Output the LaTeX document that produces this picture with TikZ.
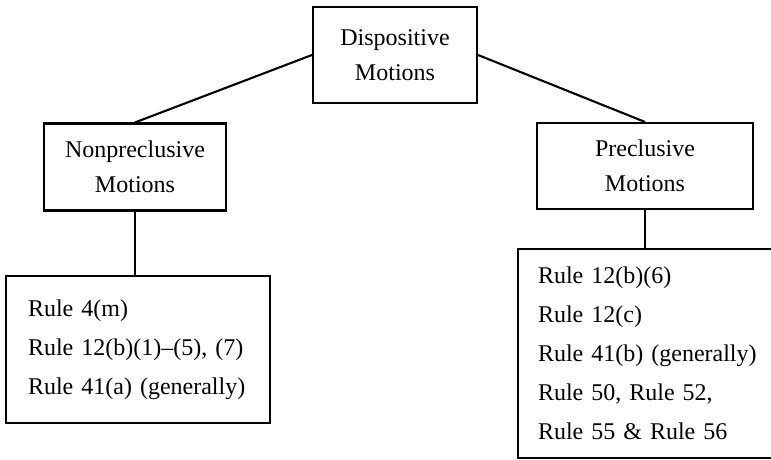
\documentclass[tikz,border=0pt]{standalone}
\usepackage{fontspec}
\setmainfont{Liberation Serif}
% slightly tighter word spacing for the list text
\newcommand{\listfont}{\fontsize{24}{39}\selectfont\fontdimen2\font=0.21em\relax}
\begin{document}
\begin{tikzpicture}[x=1pt,y=-1pt,
  box/.style={draw=black, line width=2.1pt, fill=white, inner sep=0pt,
    font=\fontsize{24}{35}\selectfont, align=center},
  rulebox/.style={draw=black, line width=2.1pt, fill=white, inner ysep=0pt,
    font=\listfont, align=left, anchor=north west},
  link/.style={draw=black, line width=2.1pt}]
  \useasboundingbox (0,0) rectangle (771,460);
  \clip (0,0) rectangle (771,460);

  % category boxes
  \node[box, minimum width=164pt, minimum height=96pt] (top) at (395,55)
    {Dispositive\\Motions};
  \node[box, minimum width=182pt, minimum height=87pt] (nonpre) at (135,167)
    {Nonpreclusive\\Motions};
  \node[box, minimum width=216pt, minimum height=86pt] (pre) at (645,166)
    {Preclusive\\Motions};

  % rule lists
  \node[rulebox, minimum width=264pt, minimum height=147pt,
    inner xsep=22pt, text width=220pt] (lrules) at (5,275)
    {Rule 4(m)\\Rule 12(b)(1)–(5), (7)\\Rule 41(a) (generally)};
  \node[rulebox, minimum width=290pt, minimum height=209pt,
    inner xsep=20pt, text width=250pt] (rrules) at (517,248)
    {Rule 12(b)(6)\\Rule 12(c)\\Rule 41(b) (generally)\\Rule 50, Rule 52,\\Rule 55 \& Rule 56};

  % connectors
  \draw[link] (top.west) -- (nonpre.north);
  \draw[link] (top.east) -- (pre.north);
  \draw[link] (nonpre.south) -- (nonpre.south |- lrules.north);
  \draw[link] (pre.south) -- (pre.south |- rrules.north);
\end{tikzpicture}
\end{document}
